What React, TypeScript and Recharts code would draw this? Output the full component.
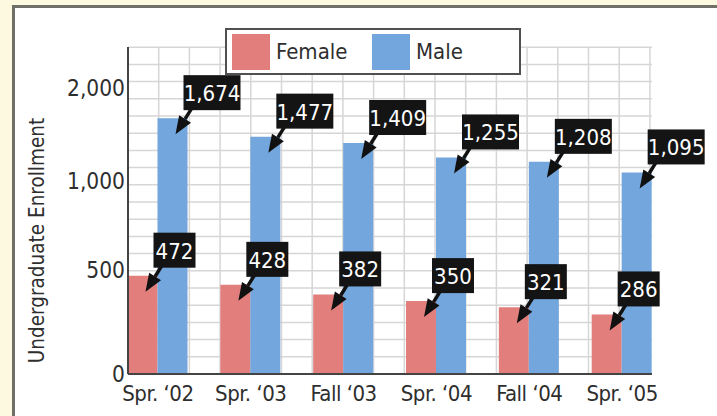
import React from "react";
import { Bar, BarChart, CartesianGrid, Label, LabelList, Legend, XAxis, YAxis } from "recharts";

const categories = ["Spr. ‘02", "Spr. ‘03", "Fall ‘03", "Spr. ‘04", "Fall ‘04", "Spr. ‘05"];
const female = [472, 428, 382, 350, 321, 286];
const male = [1674, 1477, 1409, 1255, 1208, 1095];
const yTicks = [0, 500, 1000, 2000];
// the printed axis is not linear: each tick interval gets its own height
const segmentWeights = [1, 0.85, 0.9];

const FONT = '"Liberation Sans Narrow", "DejaVu Sans Condensed", "Arial Narrow", sans-serif';
const FEMALE = "#e27f7c";
const MALE = "#72a6dc";
const INK = "#2e2e2e";

function warp(v: number) {
  let u = 0;
  for (let i = 0; i < segmentWeights.length; i++) {
    const a = yTicks[i];
    const b = yTicks[i + 1];
    if (v <= b || i === segmentWeights.length - 1) return u + ((v - a) / (b - a)) * segmentWeights[i];
    u += segmentWeights[i];
  }
  return u;
}

const tickUnits = yTicks.map(warp);

const data = categories.map((label, i) => ({
  label,
  female: warp(female[i]),
  male: warp(male[i]),
  femaleRaw: female[i],
  maleRaw: male[i],
}));

const fmt = (v: number) => v.toLocaleString("en-US");

function Callout(props: any) {
  const vb = props.viewBox || {};
  const x = props.x ?? vb.x;
  const y = props.y ?? vb.y;
  const width = props.width ?? vb.width;
  const text = fmt(Number(props.value));
  const digits = text.replace(/,/g, "").length;
  const boxW = digits * 10 + (text.length - digits) * 5 + 12;
  const boxH = 35;
  const left = x + width - 4;
  const top = y - 43;
  const tipX = left - 8;
  const tipY = y + 16;
  const baseX = left + 9;
  const baseY = top + boxH - 3;
  const dx = tipX - baseX;
  const dy = tipY - baseY;
  const len = Math.hypot(dx, dy);
  const ux = dx / len;
  const uy = dy / len;
  const hx = tipX - ux * 18;
  const hy = tipY - uy * 18;
  return (
    <g>
      <line x1={baseX} y1={baseY} x2={hx} y2={hy} stroke="#111" strokeWidth={3.5} />
      <polygon
        points={`${tipX},${tipY} ${hx - uy * 7},${hy + ux * 7} ${hx + uy * 7},${hy - ux * 7}`}
        fill="#111"
      />
      <rect x={left} y={top} width={boxW} height={boxH} fill="#141414" />
      <text
        x={left + boxW / 2}
        y={top + boxH / 2 + 1}
        textAnchor="middle"
        dominantBaseline="central"
        fill="#fff"
        fontSize={22}
        fontFamily={FONT}
      >
        {text}
      </text>
    </g>
  );
}

function YTitle(props: any) {
  const vb = props.viewBox || {};
  const cx = vb.x + 19;
  const cy = vb.y + vb.height / 2 + 30;
  return (
    <text
      x={cx}
      y={cy}
      transform={`rotate(-90 ${cx} ${cy})`}
      textAnchor="middle"
      dominantBaseline="central"
      fontSize={20.5}
      fontFamily={FONT}
      fill={INK}
    >
      Undergraduate Enrollment
    </text>
  );
}

function LegendBox({ payload }: any) {
  return (
    <div
      style={{
        boxSizing: "border-box",
        width: 296,
        height: 47,
        border: "2px solid #505050",
        background: "#fff",
        display: "flex",
        alignItems: "center",
        paddingLeft: 5,
        fontFamily: FONT,
      }}
    >
      {(payload || []).map((p: any) => (
        <div key={p.value} style={{ display: "flex", alignItems: "center", width: 140 }}>
          <span style={{ width: 38, height: 36, background: p.color, display: "inline-block" }} />
          <span style={{ marginLeft: 6, fontSize: 22, color: INK }}>{p.value}</span>
        </div>
      ))}
    </div>
  );
}

const hLines = ({ offset }: any) => {
  const pts: number[] = [];
  for (let k = 1; k < 40; k++) {
    const y = offset.top + offset.height - k * 17.2;
    if (y < offset.top - 1) break;
    pts.push(y);
  }
  return pts;
};

const vLines = ({ offset }: any) => {
  const pts: number[] = [];
  for (let k = 1; k <= 17; k++) pts.push(offset.left + k * 30.7);
  return pts;
};

export default function App() {
  return (
    <div
      style={{
        position: "absolute",
        left: 0,
        top: 0,
        width: 717,
        height: 416,
        overflow: "hidden",
        background: "#fdf9e0",
      }}
    >
      <div
        style={{
          position: "absolute",
          left: 12,
          top: 5,
          width: 702,
          height: 430,
          background: "#fff",
          borderLeft: "3px solid #707068",
          borderTop: "3px solid #707068",
          borderRight: "2px solid #c8c8c0",
        }}
      />
      <div style={{ position: "absolute", left: 0, top: 0 }}>
        <BarChart
          width={717}
          height={416}
          data={data}
          margin={{ top: 47, right: 65, bottom: 0, left: 18 }}
          barSize={30}
          barGap={0}
        >
          <CartesianGrid
            stroke="#d6d6d6"
            strokeWidth={1.5}
            horizontalCoordinatesGenerator={hLines}
            verticalCoordinatesGenerator={vLines}
          />
          <XAxis
            dataKey="label"
            height={42}
            padding={{ left: -16.5, right: -16.5 }}
            axisLine={{ stroke: "#444", strokeWidth: 2 }}
            tickLine={false}
            tickSize={0}
            tickMargin={11}
            tick={{ fontSize: 22, fill: INK, fontFamily: FONT, letterSpacing: -0.5 }}
          />
          <YAxis
            width={110}
            type="number"
            domain={[0, 3.14]}
            ticks={tickUnits}
            allowDataOverflow
            interval={0}
            tickFormatter={(u: number) => fmt(yTicks[tickUnits.indexOf(u)] ?? 0)}
            axisLine={{ stroke: "#444", strokeWidth: 2 }}
            tickLine={false}
            tickSize={0}
            tickMargin={3}
            tick={{ fontSize: 22.5, fill: INK, fontFamily: FONT }}
          >
            <Label content={<YTitle />} />
          </YAxis>
          <Legend
            layout="horizontal"
            verticalAlign="middle"
            align="center"
            wrapperStyle={{ top: 28, left: 225, width: 296 }}
            content={<LegendBox />}
          />
          <Bar dataKey="female" name="Female" fill={FEMALE} isAnimationActive={false}>
            <LabelList dataKey="femaleRaw" content={<Callout />} />
          </Bar>
          <Bar dataKey="male" name="Male" fill={MALE} isAnimationActive={false}>
            <LabelList dataKey="maleRaw" content={<Callout />} />
          </Bar>
        </BarChart>
      </div>
    </div>
  );
}
